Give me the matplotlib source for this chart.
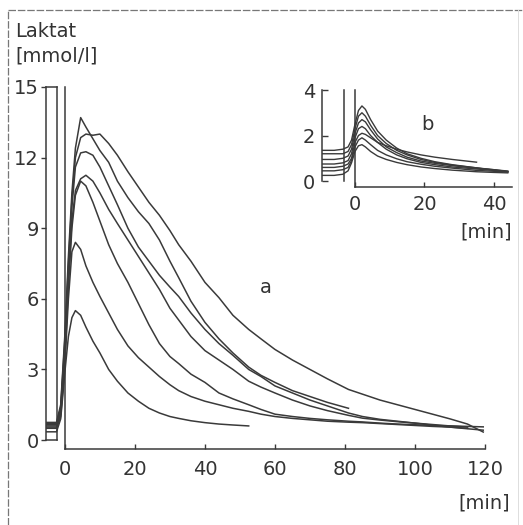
import numpy as np
import matplotlib
matplotlib.use("Agg")
import matplotlib.pyplot as plt
from matplotlib.lines import Line2D

plt.rcParams["font.family"] = ["DejaVu Sans"]

# ---------------------------------------------------------------------------
# Data
# ---------------------------------------------------------------------------

# main panel a: time grid [min]; negative part = resting values (left box)
t_a = [-5.4, -2.4, -1.2, 0, 1, 2, 3, 4.5, 6, 8, 10, 12.5, 15, 18, 21, 24, 27,
       30, 32.5, 36, 40, 44, 48, 52.5, 56, 60, 65, 70, 75, 81, 85, 90, 95,
       100, 105, 110, 115, 119.5]
N = None
lac_a1 = [0.75, 0.75, 1.5, 4.5, 7.8, 10.5, 12.4, 13.7, 13.3, 12.8, 12.3, 11.8,
          11.0, 10.3, 9.7, 9.2, 8.5, 7.6, 6.9, 5.9, 5.0, 4.3, 3.7, 3.1, 2.75,
          2.45, 2.1, 1.85, 1.6, 1.35, N, N, N, N, N, N, N, N]
lac_a2 = [0.7, 0.7, 1.4, 4.3, 7.5, 10.2, 12.0, 12.85, 13.0, 12.95, 13.0, 12.6,
          12.1, 11.4, 10.75, 10.1, 9.55, 8.9, 8.3, 7.6, 6.7, 6.05, 5.3, 4.7,
          4.3, 3.85, 3.4, 3.0, 2.6, 2.15, 1.95, 1.7, 1.5, 1.3, 1.1, 0.9, 0.68,
          0.34]
lac_a3 = [0.65, 0.65, 1.3, 4.0, 7.2, 9.9, 11.6, 12.2, 12.25, 12.1, 11.6, 10.8,
          10.0, 9.0, 8.2, 7.6, 7.0, 6.5, 6.1, 5.4, 4.7, 4.1, 3.6, 3.0, 2.7,
          2.3, 2.0, 1.7, 1.45, 1.15, 1.0, 0.88, 0.8, 0.72, 0.66, 0.6, 0.55, N]
lac_a4 = [0.6, 0.6, 1.2, 3.8, 6.8, 9.3, 10.6, 11.1, 11.25, 11.0, 10.5, 9.8,
          9.2, 8.5, 7.8, 7.1, 6.4, 5.6, 5.1, 4.4, 3.8, 3.4, 3.0, 2.5, 2.25,
          2.0, 1.7, 1.45, 1.25, 1.05, 0.93, 0.85, 0.78, 0.72, 0.63, 0.55, 0.48,
          0.42]
lac_a5 = [0.55, 0.55, 1.1, 3.5, 6.5, 9.0, 10.4, 11.0, 10.8, 10.1, 9.3, 8.3,
          7.5, 6.7, 5.8, 4.9, 4.1, 3.55, 3.25, 2.8, 2.45, 2.0, 1.75, 1.5, 1.3,
          1.1, 1.0, 0.92, 0.86, 0.8, 0.77, 0.72, 0.68, 0.65, 0.62, 0.6, 0.58,
          0.56]
lac_a6 = [0.5, 0.5, 1.0, 3.2, 6.0, 8.0, 8.4, 8.1, 7.4, 6.7, 6.1, 5.4, 4.7,
          4.0, 3.5, 3.1, 2.7, 2.35, 2.1, 1.85, 1.65, 1.5, 1.35, 1.22, 1.1,
          1.0, 0.92, 0.86, 0.8, 0.76, 0.74, 0.7, 0.66, 0.62, 0.58, 0.55, 0.5, N]
lac_a7 = [0.35, 0.35, 0.9, 2.9, 4.4, 5.2, 5.5, 5.3, 4.8, 4.2, 3.7, 3.0, 2.5,
          2.0, 1.65, 1.35, 1.15, 1.0, 0.92, 0.82, 0.74, 0.68, 0.64, 0.6, N, N,
          N, N, N, N, N, N, N, N, N, N, N, N]
series_a = [lac_a1, lac_a2, lac_a3, lac_a4, lac_a5, lac_a6, lac_a7]

# inset b
t_b = [-9.5, -6, -3.5, -2, -1, 0, 1, 2, 3, 4.5, 6.5, 9, 12, 15, 19, 23, 28,
       35, 40, 44]
lac_b1 = [1.35, 1.35, 1.4, 1.5, 1.8, 2.5, 3.1, 3.3, 3.15, 2.7, 2.2, 1.8, 1.45,
          1.2, 1.0, 0.85, 0.72, 0.58, 0.48, 0.4]
lac_b2 = [1.2, 1.2, 1.2, 1.3, 1.6, 2.3, 2.85, 3.0, 2.85, 2.45, 2.0, 1.65, 1.35,
          1.15, 0.95, 0.82, 0.7, 0.58, 0.5, 0.42]
lac_b3 = [0.95, 0.95, 1.0, 1.1, 1.4, 2.1, 2.55, 2.7, 2.6, 2.25, 1.85, 1.5,
          1.25, 1.05, 0.88, 0.78, 0.68, 0.56, 0.5, 0.44]
lac_b4 = [0.75, 0.75, 0.8, 0.9, 1.2, 1.9, 2.3, 2.4, 2.3, 2.0, 1.7, 1.4, 1.15,
          0.98, 0.82, 0.72, 0.62, 0.53, 0.47, 0.42]
lac_b5 = [0.6, 0.6, 0.65, 0.75, 1.0, 1.7, 2.0, 2.1, 2.05, 1.9, 1.7, 1.55, 1.4,
          1.28, 1.15, 1.05, 0.95, 0.83, N, N]
lac_b6 = [0.45, 0.45, 0.5, 0.6, 0.9, 1.5, 1.8, 1.9, 1.8, 1.6, 1.35, 1.15,
          0.98, 0.85, 0.74, 0.65, 0.57, 0.47, 0.43, 0.4]
lac_b7 = [0.25, 0.25, 0.3, 0.45, 0.8, 1.3, 1.55, 1.6, 1.5, 1.3, 1.1, 0.95,
          0.82, 0.72, 0.62, 0.55, 0.48, 0.41, 0.38, 0.36]
series_b = [lac_b1, lac_b2, lac_b3, lac_b4, lac_b5, lac_b6, lac_b7]

yticks_a = [0, 3, 6, 9, 12, 15]
xticks_a = [0, 20, 40, 60, 80, 100, 120]
yticks_b = [0, 2, 4]
xticks_b = [0, 20, 40]

# ---------------------------------------------------------------------------
# Figure
# ---------------------------------------------------------------------------
W, H = 523, 525
INK = "#3a3a3a"
TXT = "#333333"
FS = 14

fig = plt.figure(figsize=(W / 100, H / 100), dpi=100)


def fbox(x0, y0, x1, y1):
    """pixel box (top-left origin) -> figure fraction rect"""
    return [x0 / W, 1 - y1 / H, (x1 - x0) / W, (y1 - y0) / H]


def to_arr(vals):
    return np.array([np.nan if v is None else v for v in vals], dtype=float)


# --- main panel a ---
ax = fig.add_axes(fbox(46, 87, 485, 449))
ax.set_xlim(-5.4, 120)
ax.set_ylim(-0.38, 15)
ax.patch.set_alpha(0)
for s in ("top", "right"):
    ax.spines[s].set_visible(False)
ax.spines["left"].set_position(("data", 0))
ax.spines["bottom"].set_bounds(0, 120)
for s in ("left", "bottom"):
    ax.spines[s].set_color(INK)
    ax.spines[s].set_linewidth(1.1)
ax.set_yticks([])
ax.set_xticks(xticks_a)
ax.tick_params(axis="x", direction="in", length=3.5, width=1.0, color=INK,
               labelsize=FS, labelcolor=TXT, pad=8)
for vals in series_a:
    ax.plot(t_a, to_arr(vals), color=INK, lw=1.1, solid_joinstyle="round")
ax.text(57.4, 6.5, "a", fontsize=FS, color=TXT, ha="center", va="center")

# resting box with the y scale
axr = fig.add_axes(fbox(46, 87, 57, 440))
axr.patch.set_alpha(0)
axr.set_ylim(0, 15)
axr.set_xticks([])
axr.set_yticks(yticks_a)
for s in axr.spines.values():
    s.set_color(INK)
    s.set_linewidth(1.1)
axr.tick_params(axis="y", direction="out", length=3.5, width=1.0, color=INK,
                labelsize=FS, labelcolor=TXT, pad=1.5)

# --- inset b ---
axb = fig.add_axes(fbox(322, 90, 513, 187))
axb.set_xlim(-9.5, 45.5)
axb.set_ylim(-0.26, 4)
axb.patch.set_alpha(0)
for s in ("top", "right"):
    axb.spines[s].set_visible(False)
axb.spines["left"].set_position(("data", 0))
axb.spines["bottom"].set_bounds(0, 45.3)
for s in ("left", "bottom"):
    axb.spines[s].set_color(INK)
    axb.spines[s].set_linewidth(1.1)
axb.set_yticks([])
axb.set_xticks(xticks_b)
axb.tick_params(axis="x", direction="in", length=3.5, width=1.0, color=INK,
                labelsize=FS, labelcolor=TXT, pad=6)
for vals in series_b:
    axb.plot(t_b, to_arr(vals), color=INK, lw=1.0, solid_joinstyle="round")
axb.text(21, 2.5, "b", fontsize=FS, color=TXT, ha="center", va="center")

axbr = fig.add_axes(fbox(322, 90, 344, 181))
axbr.patch.set_alpha(0)
axbr.set_ylim(0, 4)
axbr.set_xticks([])
axbr.set_yticks(yticks_b)
axbr.spines["top"].set_visible(False)
axbr.spines["bottom"].set_visible(False)
for s in ("left", "right"):
    axbr.spines[s].set_color(INK)
    axbr.spines[s].set_linewidth(1.1)
axbr.tick_params(axis="y", direction="in", length=4, width=1.0, color=INK,
                 labelsize=FS, labelcolor=TXT, pad=5)

# --- labels ---
fig.text(15 / W, 1 - 22 / H, "Laktat", fontsize=FS, color=TXT,
         ha="left", va="top")
fig.text(15 / W, 1 - 46 / H, "[mmol/l]", fontsize=FS, color=TXT,
         ha="left", va="top")
fig.text(510 / W, 1 - 503 / H, "[min]", fontsize=FS, color=TXT,
         ha="right", va="center")
fig.text(512 / W, 1 - 232 / H, "[min]", fontsize=FS, color=TXT,
         ha="right", va="center")

# scanned page frame
fig.add_artist(Line2D([8 / W, 8 / W], [0, 1 - 10 / H], color="#777777",
                      lw=0.9, ls=(0, (6, 1.5))))
fig.add_artist(Line2D([8 / W, 1], [1 - 10 / H, 1 - 10 / H], color="#777777",
                      lw=0.9, ls=(0, (6, 1.5))))
fig.add_artist(Line2D([518 / W, 518 / W], [0, 1 - 10 / H], color="#dddddd",
                      lw=0.7))

fig.savefig("out.png", dpi=100)
